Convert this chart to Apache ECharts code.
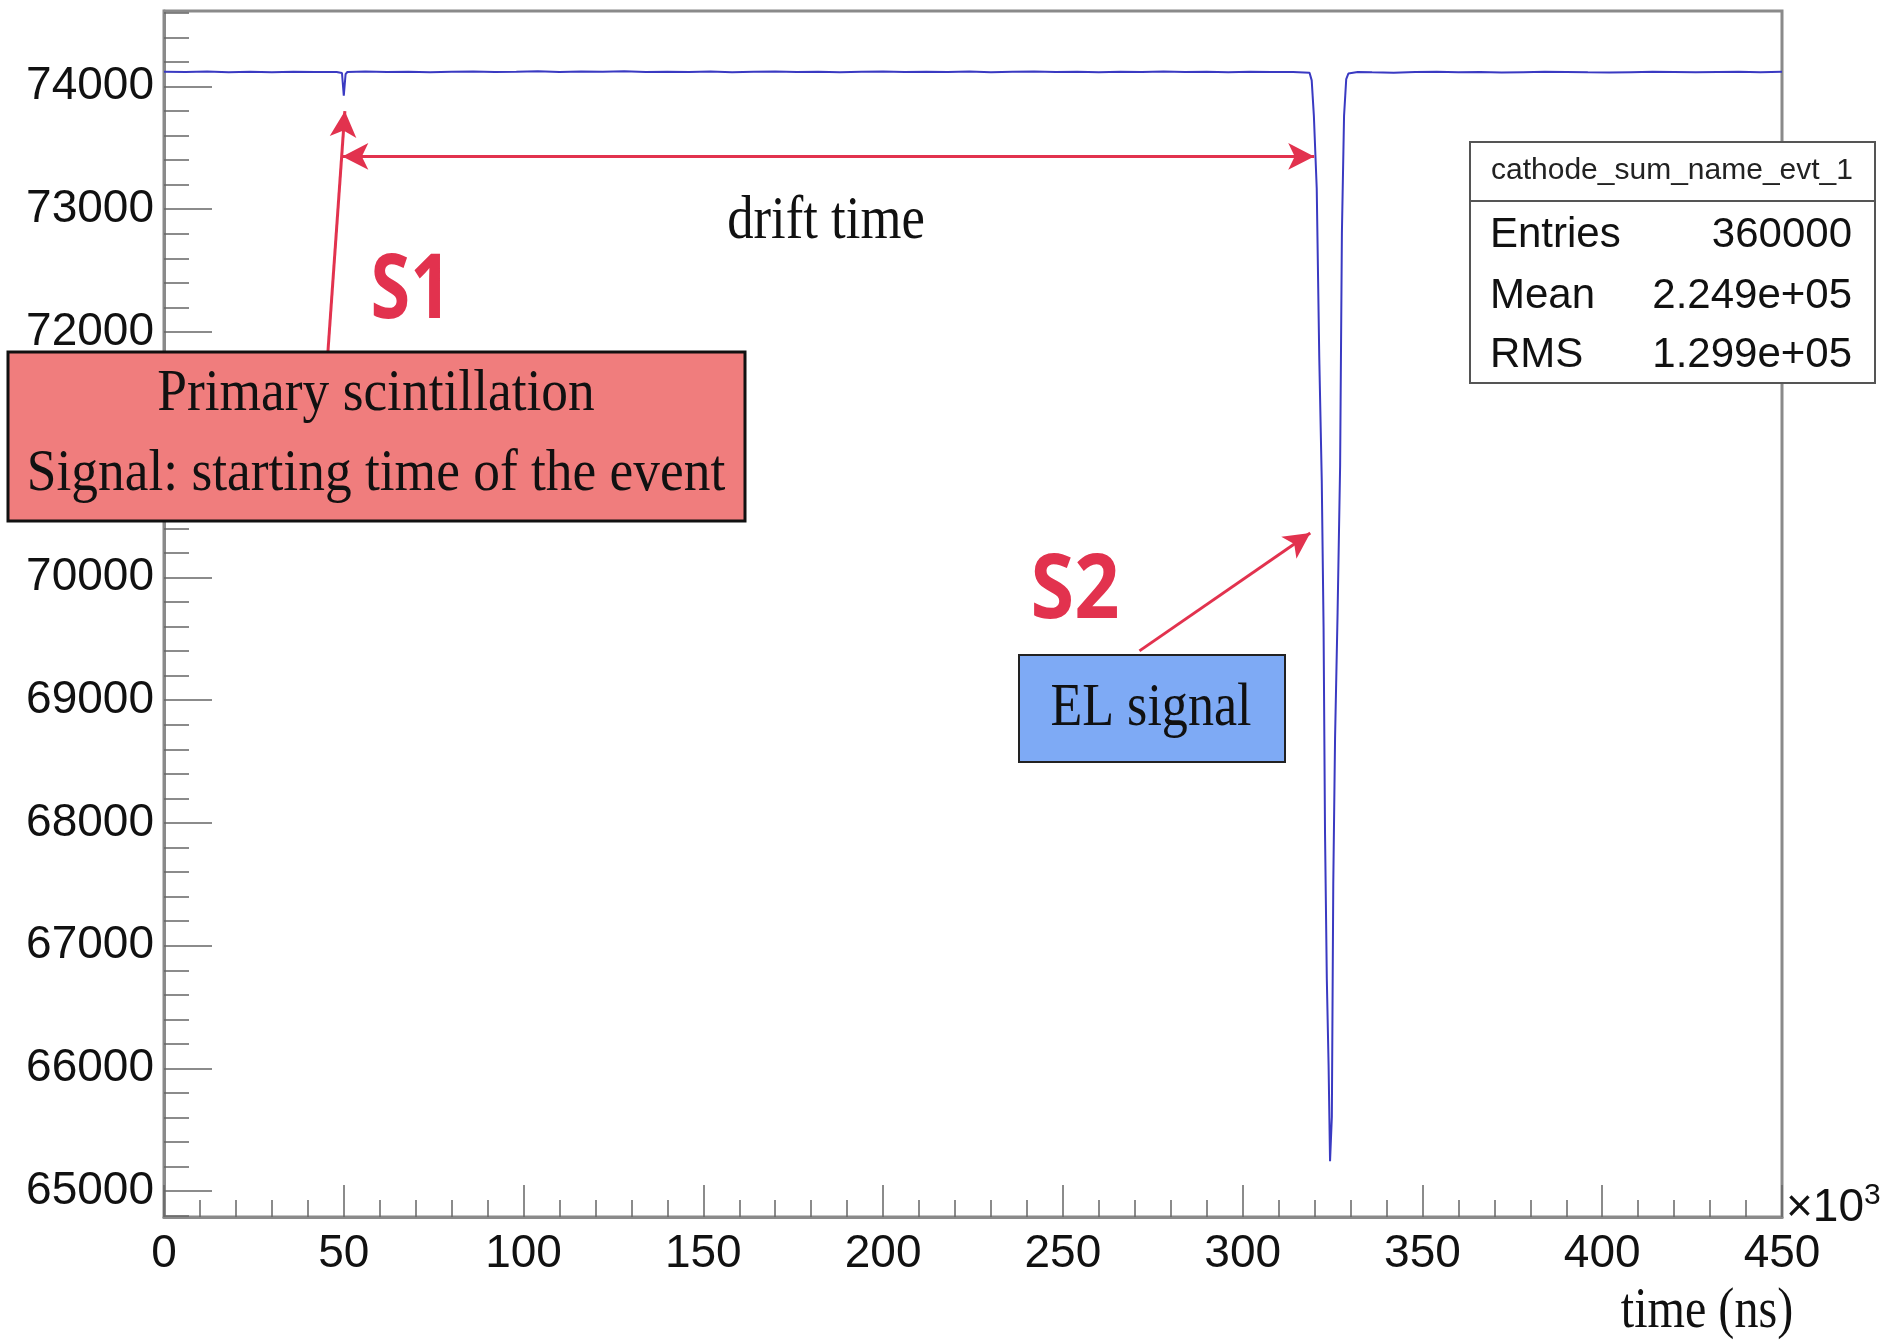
<!DOCTYPE html>
<html><head><meta charset="utf-8">
<script src="https://cdn.jsdelivr.net/npm/echarts@6/dist/echarts.min.js"></script>
<style>html,body{margin:0;padding:0;background:#fff;} #c{width:1890px;height:1343px;}</style>
</head><body><div id="c"></div>
<script>
// time in units of 10^3 ns
const times = [
  0, 6, 12, 18, 24, 30, 36, 42, 48,
  49.5, 50.0, 50.5, 51,
  56, 62, 68, 74, 80, 86, 92, 98, 104, 110, 116, 122, 128, 134, 140, 146, 152, 158, 164, 170,
  176, 182, 188, 194, 200, 206, 212, 218, 224, 230, 236, 242, 248, 254, 260, 266, 272, 278,
  284, 290, 296, 302, 308, 314, 318.6,
  319.2, 319.8, 320.6, 321.3, 322.0, 322.5, 322.9, 323.4, 323.9, 324.3,
  324.8, 325.2, 325.7, 326.4, 327.1, 327.6, 328.2, 328.8, 329.4,
  332, 336, 342, 348, 354, 360, 366, 372, 378, 384, 390, 396, 402, 408, 414, 420, 426, 432, 438, 444, 450
];
const amplitudes = [
  74120, 74118, 74122, 74115, 74120, 74117, 74121, 74119, 74118,
  74110, 73925, 74100, 74118,
  74122, 74118, 74121, 74116, 74120, 74123, 74118, 74121, 74125, 74119, 74122, 74120, 74124, 74118, 74121, 74119, 74122, 74117, 74120, 74123,
  74119, 74121, 74116, 74120, 74122, 74118, 74121, 74119, 74123, 74117, 74120, 74122, 74118, 74121, 74116, 74120, 74119, 74122,
  74118, 74121, 74117, 74120, 74119, 74118, 74112,
  74050, 73763, 73167, 71797, 70785, 69594, 67926, 66735, 66020, 65245,
  65603, 67509, 68700, 69713, 70904, 72810, 73763, 74060, 74105,
  74118, 74115, 74112, 74118, 74120, 74116, 74119, 74114, 74117, 74120, 74118, 74115, 74113, 74117, 74120, 74118, 74116, 74119, 74121, 74117, 74120
];
const xTickLabels = [0, 50, 100, 150, 200, 250, 300, 350, 400, 450];
const yTickLabels = [65000, 66000, 67000, 68000, 69000, 70000, 71000, 72000, 73000, 74000];
const yMinorTicks = [];
for (let v = 64800; v <= 74600; v += 200) yMinorTicks.push(v);
const statsTitle = 'cathode_sum_name_evt_1';
const statsLabels = ['Entries', 'Mean', 'RMS'];
const statsValues = ['360000', '2.249e+05', '1.299e+05'];
const driftArrow = [[49.6, 73430], [319.9, 73430]];
const s1Arrow = [[45.6, 71843], [50.3, 73800]];
const s2Arrow = [[271.3, 69402], [318.8, 70363]];

const RED = '#e2324e';
const HAND = '"Liberation Serif", "DejaVu Serif", serif';
const SANS = '"Liberation Sans", Arial, sans-serif';

const chart = echarts.init(document.getElementById('c'), null, {renderer: 'canvas'});
const tickStyle = {color: '#666', width: 1.5};
function handText(txt, x, y, size, sx) {
  return {type: 'text', z: 101, x: x, y: y, scaleX: sx, scaleY: 1,
    style: {text: txt, font: size + 'px ' + HAND, fill: '#111', align: 'center', verticalAlign: 'middle'}};
}
const option = {
  animation: false,
  backgroundColor: '#fff',
  grid: {left: 164, right: 108, top: 11, bottom: 126, show: true, borderColor: '#8a8a8a', borderWidth: 3, backgroundColor: 'transparent'},
  xAxis: {
    type: 'value', min: 0, max: 450, interval: 50,
    axisLine: {show: true, lineStyle: {color: '#8a8a8a', width: 3}},
    axisTick: {show: true, inside: true, length: 32, lineStyle: tickStyle},
    minorTick: {show: true, splitNumber: 5, length: 17, lineStyle: tickStyle},
    axisLabel: {fontSize: 46, fontFamily: SANS, color: '#111', margin: 14, showMinLabel: true, showMaxLabel: true,
      customValues: xTickLabels, formatter: v => String(v)},
    splitLine: {show: false}
  },
  yAxis: [{
    type: 'value', min: 64790, max: 74615,
    axisLine: {show: true, onZero: false, lineStyle: {color: '#8a8a8a', width: 3}},
    axisTick: {show: true, inside: true, length: 48, lineStyle: tickStyle, customValues: yTickLabels},
    axisLabel: {fontSize: 46, fontFamily: SANS, color: '#111', margin: 10, customValues: yTickLabels, formatter: v => String(v)},
    splitLine: {show: false}
  }, {
    type: 'value', min: 64790, max: 74615, position: 'left',
    axisLine: {show: false},
    axisTick: {show: true, inside: true, length: 25, lineStyle: tickStyle, customValues: yMinorTicks},
    axisLabel: {show: false},
    splitLine: {show: false}
  }],
  series: [{
    type: 'line',
    data: times.map((t, i) => [t, amplitudes[i]]),
    showSymbol: false,
    symbol: 'none',
    lineStyle: {color: '#3a3ac2', width: 2},
    z: 3,
    markLine: {
      silent: true,
      animation: false,
      symbolSize: [20, 26],
      lineStyle: {color: RED, width: 3, type: 'solid'},
      label: {show: false},
      data: [
        [{coord: driftArrow[0], symbol: 'arrow'}, {coord: driftArrow[1], symbol: 'arrow'}],
        [{coord: s1Arrow[0], symbol: 'none'}, {coord: s1Arrow[1], symbol: 'arrow'}],
        [{coord: s2Arrow[0], symbol: 'none'}, {coord: s2Arrow[1], symbol: 'arrow'}]
      ]
    }
  }],
  graphic: [
    {type: 'rect', z: 100, shape: {x: 8, y: 352, width: 737, height: 169}, style: {fill: '#f07d7d', stroke: '#111', lineWidth: 3}},
    handText('Primary scintillation', 376, 394, 60, 0.89),
    handText('Signal: starting time of the event', 376, 474, 60, 0.89),
    {type: 'rect', z: 100, shape: {x: 1019, y: 655, width: 266, height: 107}, style: {fill: '#7eaaf5', stroke: '#222', lineWidth: 2}},
    handText('EL signal', 1151, 709, 62, 0.84),
    handText('drift time', 826, 222, 62, 0.85),
    {type: 'text', z: 101, x: 411, y: 292, scaleX: 0.8, style: {text: 'S1', font: 'bold 90px "Open Sans", sans-serif', fill: RED, align: 'center', verticalAlign: 'middle'}},
    {type: 'text', z: 101, x: 1075, y: 592, scaleX: 0.88, style: {text: 'S2', font: 'bold 90px "Open Sans", sans-serif', fill: RED, align: 'center', verticalAlign: 'middle'}},
    {type: 'rect', z: 100, shape: {x: 1470, y: 142, width: 405, height: 241}, style: {fill: '#fff', stroke: '#555', lineWidth: 2}},
    {type: 'line', z: 101, shape: {x1: 1470, y1: 201, x2: 1875, y2: 201}, style: {stroke: '#555', lineWidth: 2}},
    {type: 'text', z: 101, x: 1672, y: 171, style: {text: statsTitle, font: '30px ' + SANS, fill: '#222', align: 'center', verticalAlign: 'middle'}},
    ...statsLabels.map((l, i) => ({type: 'text', z: 101, x: 1490, y: [235, 296, 355][i], style: {text: l, font: '42px ' + SANS, fill: '#111', align: 'left', verticalAlign: 'middle'}})),
    ...statsValues.map((v, i) => ({type: 'text', z: 101, x: 1852, y: [235, 296, 355][i], style: {text: v, font: '42px ' + SANS, fill: '#111', align: 'right', verticalAlign: 'middle'}})),
    {type: 'text', z: 101, x: 1786, y: 1208, style: {text: '×10{s|3}', font: '46px ' + SANS, fill: '#111', align: 'left', verticalAlign: 'middle',
      rich: {s: {fontSize: 30, fontFamily: SANS, verticalAlign: 'top', padding: [0, 0, 24, 0]}}}},
    handText('time (ns)', 1707, 1312, 58, 0.83)
  ]
};
chart.setOption(option);
</script>
</body></html>
